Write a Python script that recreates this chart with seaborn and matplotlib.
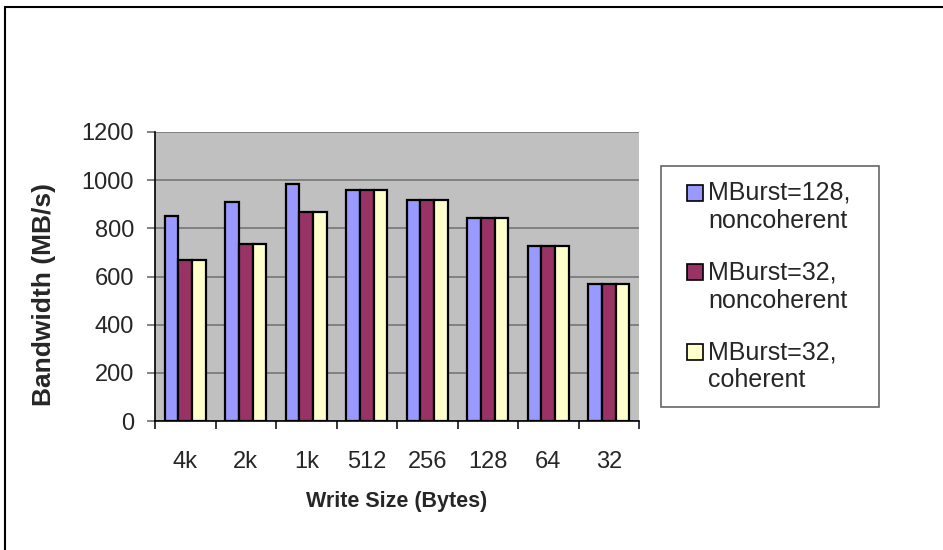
import matplotlib
matplotlib.use("Agg")
import matplotlib.pyplot as plt
from matplotlib.patches import Rectangle, Patch
from matplotlib.legend_handler import HandlerPatch
import numpy as np
import pandas as pd
import seaborn as sns

# Write sizes on the x axis
sizes = ["4k", "2k", "1k", "512", "256", "128", "64", "32"]

# Measured bandwidth (MB/s) per configuration
burst128_noncoh = [851, 909, 984, 959, 917, 843, 727, 568]
burst32_noncoh = [668, 734, 868, 959, 917, 843, 727, 568]
burst32_coh = [668, 734, 868, 959, 917, 843, 727, 568]

series_names = ["MBurst=128,\nnoncoherent", "MBurst=32,\nnoncoherent", "MBurst=32,\ncoherent"]
series_colors = ["#9999FF", "#993366", "#FFFFCC"]

df = pd.DataFrame({
    "size": sizes * 3,
    "bw": burst128_noncoh + burst32_noncoh + burst32_coh,
    "series": [series_names[0]] * 8 + [series_names[1]] * 8 + [series_names[2]] * 8,
})

sns.set_theme(style="white")
plt.rcParams["font.family"] = ["Liberation Sans", "DejaVu Sans"]

W, H = 943, 550
PX = 72 / 100  # points per pixel at 100 dpi
fig = plt.figure(figsize=(W / 100, H / 100), dpi=100)
fig.patch.set_facecolor("white")

# plot area in pixel coordinates
left, right, top, bottom = 155, 639, 132, 421
ax = fig.add_axes([left / W, 1 - bottom / H, (right - left) / W, (bottom - top) / H])
ax.set_facecolor("#C0C0C0")

sns.barplot(data=df, x="size", y="bw", hue="series", order=sizes,
            hue_order=series_names, palette=series_colors, width=0.67,
            edgecolor="black", linewidth=1.6, saturation=1, legend=False, ax=ax)

ax.set_ylim(0, 1200)
ax.set_xlim(-0.5, len(sizes) - 0.5)
ax.set_yticks(np.arange(0, 1201, 200))
ax.yaxis.grid(True, color="#707070", linewidth=1.1)
ax.set_axisbelow(True)

for side in ["top", "right"]:
    ax.spines[side].set_visible(False)
for side in ["left", "bottom"]:
    ax.spines[side].set_color("black")
    ax.spines[side].set_linewidth(1.2)

ax.tick_params(axis="y", which="major", left=True, length=8 * PX, width=1.1,
               color="#606060", labelsize=17, pad=13 * PX, direction="out")
ax.tick_params(axis="x", which="major", bottom=False, labelsize=17, pad=22 * PX)
ax.set_xticks(np.arange(-0.5, len(sizes)), minor=True)
ax.tick_params(axis="x", which="minor", bottom=True, length=8 * PX, width=1.1,
               color="black", direction="out")

ax.set_xlabel("Write Size (Bytes)", fontsize=15.5, fontweight="bold", labelpad=13)
ax.set_ylabel("Bandwidth (MB/s)", fontsize=19, fontweight="bold")
ax.yaxis.set_label_coords((56 - left) / (right - left), (bottom - 295) / (bottom - top))


# legend swatch sits beside the first line of each two-line entry
def top_swatch(legend, orig_handle, xdescent, ydescent, width, height, fontsize):
    side = 16 * PX
    return Rectangle((-xdescent + width - side, -ydescent + 0.6 * fontsize + (height - side) / 2),
                     side, side)


handles = [Patch(facecolor=c, edgecolor="black", linewidth=1.2) for c in series_colors]
leg = fig.legend(handles, series_names, loc="upper left",
                 bbox_to_anchor=(661 / W, 1 - 405 / H, 218 / W, 239 / H),
                 bbox_transform=fig.transFigure, mode="expand",
                 handler_map={Patch: HandlerPatch(patch_func=top_swatch)},
                 fontsize=18, frameon=True, fancybox=False, handlelength=1.08,
                 handleheight=0.64, handletextpad=0.2, labelspacing=1.12,
                 borderpad=0.6, borderaxespad=0)
leg.get_frame().set_edgecolor("#404040")
leg.get_frame().set_linewidth(1.2)

# chart border
fig.patches.append(Rectangle((5 / W, -0.1), 1.2, 1 - 7 / H + 0.1,
                             transform=fig.transFigure, fill=False,
                             edgecolor="black", linewidth=1.5))

fig.savefig("out.png", dpi=100)
